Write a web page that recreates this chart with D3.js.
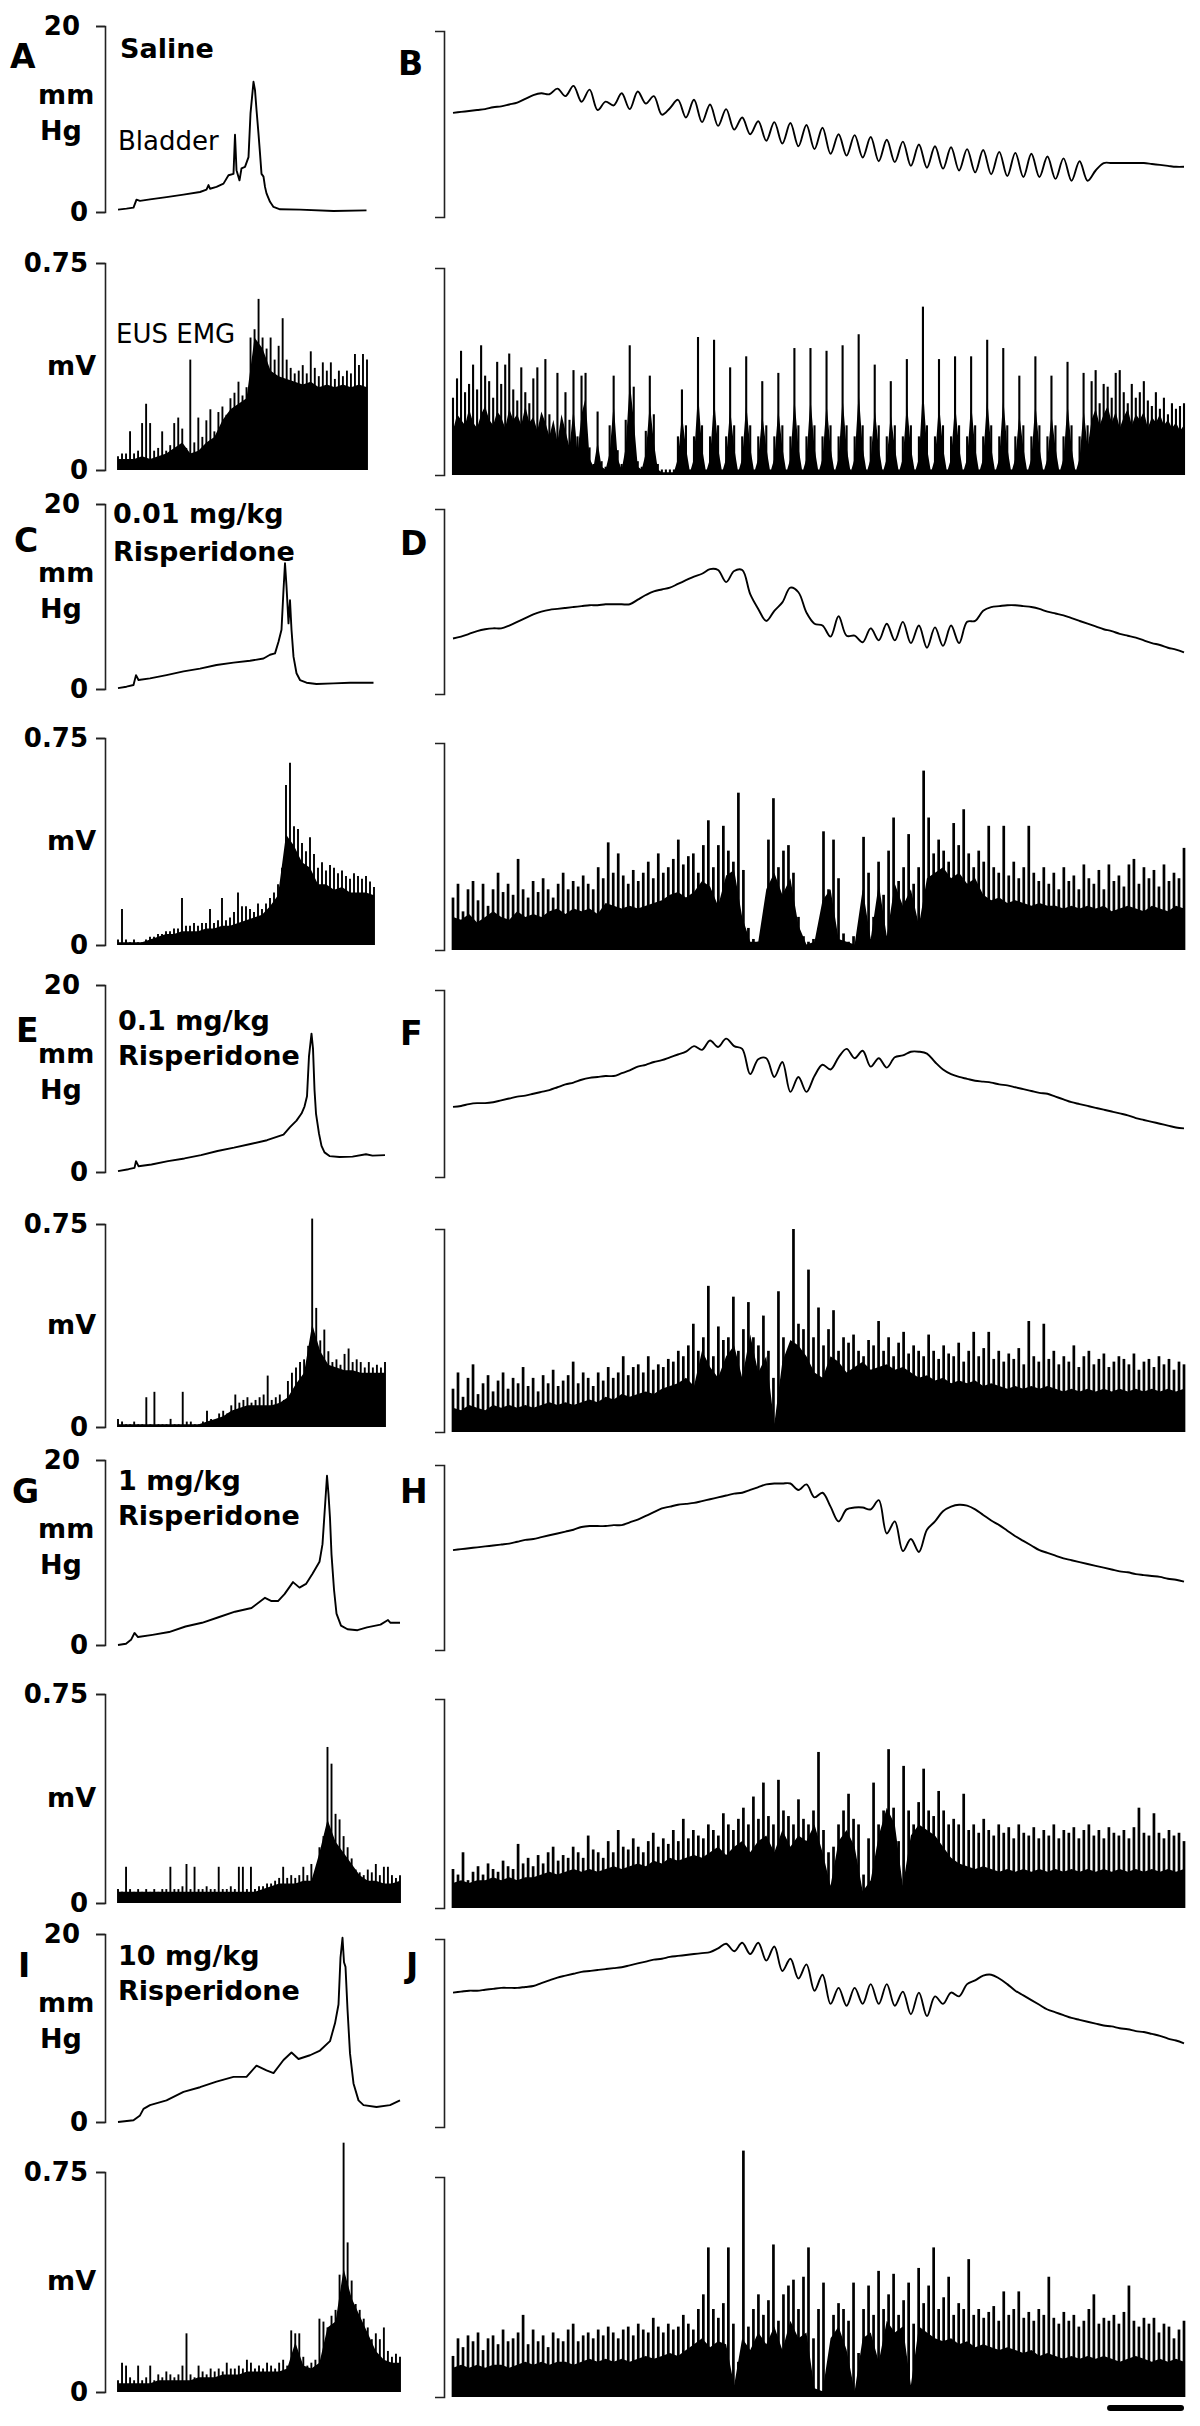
<!DOCTYPE html>
<html lang="en">
<head>
<meta charset="UTF-8">
<title>Bladder pressure and EUS EMG after risperidone</title>
<script src="https://d3js.org/d3.v7.min.js"></script>
<style>
  body { margin: 0; background: #fff; }
  svg text { font-family: "DejaVu Sans", Verdana, sans-serif; }
</style>
</head>
<body>
<script>
// ---- data ----
// bladder pressure in mmHg, EMG amplitude in units of 0.01 mV
// left panels: bladder as [time s, mmHg]; EMG arrays evenly spaced over the trace
const doseLabels = [["Saline"], ["0.01 mg/kg", "Risperidone"], ["0.1 mg/kg", "Risperidone"],
  ["1 mg/kg", "Risperidone"], ["10 mg/kg", "Risperidone"]];
const leftDur = [498, 512, 534, 564, 564];   // seconds per left trace
const rightDur = 95;                          // seconds per right trace
const scaleBarSec = 10;

const bladderA = [[0,0.25],[17,0.36],[31,0.47],[34,0.9],[37,1.33],[44,1.2],[64,1.36],[97,1.6],[131,1.87],[164,2.15],[177,2.4],[181,2.9],[184,2.5],[197,2.7],[211,3.05],[221,3.95],[231,4.1],[234,8.3],[237,4.5],[243,3.4],[247,4.7],[254,4.85],[261,5.9],[265,10.6],[271,14.0],[274,13.1],[277,11.0],[281,8.4],[284,6.3],[287,4.1],[291,3.8],[294,2.7],[297,2.0],[304,1.1],[311,0.54],[324,0.29],[364,0.25],[431,0.1],[497,0.18]];
const bladderC = [[0,0.1],[17,0.25],[31,0.43],[36,1.5],[41,0.97],[64,1.15],[97,1.5],[131,1.9],[164,2.2],[197,2.6],[231,2.85],[264,3.05],[291,3.3],[304,3.7],[314,3.85],[321,5.1],[327,6.4],[331,10.7],[334,13.6],[337,11.1],[341,7.1],[344,9.6],[347,6.4],[351,3.5],[357,1.7],[364,0.97],[377,0.68],[397,0.54],[431,0.61],[464,0.68],[511,0.68]];
const bladderE = [[0,0.1],[21,0.3],[33,0.44],[36,1.16],[41,0.62],[67,0.8],[100,1.16],[133,1.45],[166,1.8],[199,2.25],[232,2.6],[265,3.0],[298,3.4],[331,4.0],[344,4.8],[357,5.5],[367,6.25],[373,7.0],[378,8.1],[382,12.4],[387,14.8],[390,13.2],[393,8.8],[396,6.25],[402,4.1],[407,2.8],[413,2.1],[423,1.7],[443,1.6],[469,1.64],[496,1.9],[509,1.75],[534,1.8]];
const bladderG = [[0,0],[16,0.13],[26,0.56],[33,1.3],[40,0.86],[69,1.1],[102,1.4],[135,2.0],[168,2.4],[201,3.0],[234,3.6],[267,4.0],[294,5.1],[307,4.75],[320,4.75],[333,5.5],[350,6.8],[363,6.2],[376,6.6],[389,7.7],[403,9.0],[409,10.9],[414,15.0],[418,18.3],[421,16.3],[424,13.7],[427,9.8],[432,6.0],[437,3.4],[446,2.1],[459,1.7],[479,1.6],[498,1.9],[525,2.2],[540,2.7],[545,2.4],[564,2.4]];
const bladderI = [[0,0],[31,0.18],[44,0.7],[51,1.4],[64,1.8],[97,2.3],[131,3.2],[164,3.7],[197,4.3],[231,4.8],[257,4.8],[277,6.0],[297,5.5],[311,5.2],[331,6.6],[347,7.4],[361,6.7],[384,7.1],[404,7.6],[424,8.6],[434,10.5],[441,12.5],[445,17.5],[449,19.6],[452,17.0],[455,16.5],[459,12.0],[464,7.3],[471,4.1],[481,2.3],[491,1.8],[517,1.6],[544,1.8],[564,2.3]];

const bodyA = [4,4,4,5,4,5,6,8,10,6,7,10,12,18,22,24,26,48,44,36,34,33,32,31,32,30,31,30,31,30,31,30];
const spikesA = [5,6,6,14,6,7,17,24,17,7,8,14,7,9,17,19,15,8,40,10,19,12,18,22,14,21,23,20,26,28,32,27,30,48,51,62,48,44,48,40,45,55,40,37,35,36,38,35,43,37,34,39,36,39,33,36,34,36,35,42,38,42,40];
const bodyC = [1,1,1,1,2,3,4,4,5,5,5,6,6,7,7,8,9,10,11,14,18,40,36,30,28,22,22,20,21,19,19,19,18];
const spikesC = [2,13,2,1,2,1,1,2,3,3,4,4,5,5,6,6,17,7,7,8,7,8,8,13,8,9,17,9,10,12,19,14,14,13,12,15,13,15,17,19,22,28,58,66,43,42,37,34,39,33,28,30,27,29,28,26,27,25,24,26,25,24,25,23,21];
const bodyE = [1,1,1,1,1,1,1,1,1,1,1,2,3,4,6,7,8,8,8,8,9,11,16,20,38,28,23,22,21,21,20,20,20,20];
const spikesE = [3,2,1,1,2,1,1,11,1,13,1,1,1,3,1,1,13,2,2,1,1,2,6,3,2,5,6,5,8,12,9,10,11,9,10,11,12,19,10,11,12,10,17,20,22,24,25,30,77,44,32,36,28,24,25,23,27,29,24,25,24,22,24,22,23,22,24];
const bodyG = [4,4,4,4,4,4,4,4,4,4,4,4,4,4,4,4,4,4,5,6,7,7,7,8,8,18,30,22,18,14,10,8,8,7,7,8];
const spikesG = [5,4,13,5,4,5,4,5,4,5,4,5,5,13,5,5,6,14,5,13,5,5,6,5,5,13,5,5,6,5,13,13,5,13,5,6,6,7,7,8,9,13,9,10,9,10,13,10,14,10,20,24,56,50,32,30,24,20,16,12,11,10,12,11,14,10,13,13,10,9,10];
const bodyI = [3,3,3,3,3,4,4,4,4,4,5,5,5,6,6,6,7,7,7,7,7,8,17,9,8,10,22,24,42,32,26,20,14,11,10,10];
const spikesI = [4,10,9,5,4,9,4,5,9,4,6,5,7,6,5,6,9,20,6,5,9,7,6,8,7,8,7,10,8,8,9,8,11,10,8,9,8,10,9,8,10,11,9,21,20,20,12,9,10,11,25,24,22,26,28,40,85,51,38,30,28,25,22,18,20,18,22,14,12,13,12];

// right panels: evenly spaced samples over rightDur
const bladderB = [11.2,11.3,11.4,11.5,11.6,11.8,11.9,12.1,12.3,12.7,
  13.1,13.3,13.2,13.8,13.0,14.1,12.4,13.7,11.5,12.4,
  12.0,13.3,11.6,13.5,12.2,13.0,11.0,11.7,12.6,10.7,
  12.6,10.2,12.1,9.8,11.6,9.4,10.7,8.9,10.3,8.2,
  10.2,7.9,10.1,7.6,9.9,7.3,9.6,6.8,8.9,6.6,
  8.8,6.4,8.6,6.0,8.3,5.9,8.1,5.5,7.8,5.3,
  7.6,5.2,7.5,5.0,7.3,4.8,7.2,4.6,7.0,4.4,
  6.9,4.3,6.8,4.3,6.5,4.1,6.3,3.9,6.0,3.9,
  5.0,5.8,5.8,5.8,5.8,5.8,5.8,5.7,5.6,5.5,5.4,5.4];
const bodyB = [16,22,20,18,24,19,17,22,25,20,18,23,21,17,24,20,22,18,25,19,21,16,23,19,14,20,12,22,16,10,24,8,22,
  28,6,3,12,3,2,8,26,6,2,10,34,20,3,2,8,26,12,2,1,1,1,
  1,6,22,10, 1,6,30,10, 1,6,28,10, 1,6,24,10, 1,6,26,10, 1,6,22,10, 1,6,24,10, 1,6,28,10,
  1,6,28,10, 1,6,26,10, 1,6,28,10, 1,6,30,10, 1,6,24,10, 1,6,22,10, 1,6,26,10, 1,6,32,10,
  1,6,26,10, 1,6,26,10, 1,6,26,10, 1,6,28,10, 1,6,28,10, 1,6,22,10, 1,6,26,10, 1,6,22,10,
  1,6,26,10, 1,6,24,10,
  20,24,18,22,25,19,23,17,21,24,18,22,20,23,17,21,19,22,18,20,17,19,16,18];
const spikesB = [28,35,45,30,33,40,31,47,36,34,28,41,33,40,44,31,27,39,30,26,35,39,20,42,22,17,37,15,30,20,38,14,36,
  37,10,4,23,5,3,18,36,9,4,20,47,32,5,3,16,36,22,4,2,2,2,
  2,14,31,18, 2,14,50,18, 2,14,49,18, 2,14,39,18, 2,14,43,18, 2,14,34,18, 2,14,37,18, 2,14,46,18,
  2,14,46,18, 2,14,45,18, 2,14,47,18, 2,14,51,18, 2,14,40,18, 2,14,34,18, 2,14,42,18, 2,14,61,18,
  2,14,42,18, 2,14,43,18, 2,14,43,18, 2,14,49,18, 2,14,46,18, 2,14,36,18, 2,14,43,18, 2,14,36,18,
  2,14,41,18, 2,14,37,18,
  34,38,26,33,32,28,37,38,30,26,33,28,30,34,27,25,30,24,28,22,26,24,25,26];

const bladderD = [6.0,6.2,6.5,6.8,7.0,7.1,7.1,7.4,7.8,8.2,8.6,8.9,9.1,9.2,9.3,9.4,9.5,9.6,9.6,9.7,
  9.7,9.7,9.7,10.2,10.7,11.1,11.3,11.5,11.9,12.3,12.7,13.0,13.5,13.4,12.1,13.3,13.4,10.8,9.2,7.9,
  9.0,9.9,11.5,11.0,8.8,7.6,7.4,6.2,8.4,6.3,6.3,5.6,7.1,5.8,7.6,5.8,7.8,5.5,7.4,5.0,
  7.2,5.2,7.4,5.5,7.8,7.9,9.0,9.4,9.5,9.6,9.6,9.5,9.4,9.2,8.9,8.7,8.5,8.2,7.9,7.6,
  7.3,7.0,6.8,6.5,6.3,6.1,5.8,5.5,5.3,5.0,4.8,4.5];
const bodyD = [12,11,13,10,12,14,12,11,14,12,13,12,14,15,13,15,14,15,13,17,
  16,15,16,15,16,17,18,20,21,19,21,25,23,16,27,29,12,3,3,22,
  28,20,26,9,2,3,18,22,4,3,2,22,4,24,5,24,16,22,9,26,
  28,30,26,28,24,26,20,18,19,17,18,17,16,17,16,16,15,16,15,16,
  15,16,14,15,16,15,14,16,15,14,16,15];
const spikesD = [19,24,14,22,25,18,24,16,22,28,21,24,20,33,22,19,25,21,26,22,
  19,24,28,22,25,23,27,24,22,30,26,39,28,35,27,24,29,25,28,32,
  26,35,28,30,33,40,31,34,35,28,38,47,30,38,45,36,32,57,29,8,
  4,3,6,40,55,30,36,38,28,12,5,3,4,8,43,22,40,26,6,3,
  5,8,41,28,12,32,20,36,48,25,30,42,24,30,65,48,35,40,36,32,
  46,38,51,35,30,36,32,45,30,28,45,27,32,26,30,45,28,25,30,24,
  28,22,30,25,27,22,31,26,24,29,22,31,25,27,23,31,33,24,30,26,
  29,23,31,25,28,26,37];

const bladderF = [7.5,7.6,7.8,7.9,7.9,8.0,8.2,8.4,8.6,8.7,8.9,9.1,9.3,9.6,9.9,10.1,10.4,10.6,10.7,10.8,
  10.8,11.1,11.4,11.8,12.0,12.3,12.5,12.8,13.1,13.4,14.0,13.6,14.6,13.9,14.8,14.0,13.7,11.0,12.6,12.7,
  10.7,12.3,9.1,10.7,9.1,10.8,12.0,11.5,12.8,13.7,12.7,13.5,11.8,12.7,11.7,12.8,13.0,13.4,13.4,13.2,
  12.3,11.5,11.0,10.7,10.5,10.3,10.2,10.1,9.9,9.8,9.6,9.4,9.2,9.0,8.9,8.6,8.3,8.0,7.8,7.6,
  7.4,7.2,7.0,6.8,6.6,6.3,6.1,5.9,5.7,5.5,5.3,5.2];
const bodyF = [9,8,10,9,8,10,9,10,9,10,9,10,11,10,11,10,11,12,11,13,
  12,14,13,14,15,14,16,17,18,20,17,30,24,20,28,32,20,36,22,28,
  3,26,34,32,28,22,20,28,26,22,24,26,23,24,25,23,24,22,20,21,
  19,20,18,19,18,19,17,18,17,16,17,16,17,16,17,16,15,16,15,16,
  15,16,15,16,15,16,15,16,15,16,15,16];
const spikesF = [16,22,13,20,25,14,18,21,15,19,22,16,20,18,24,17,20,15,21,18,
  23,17,19,21,26,18,22,20,17,22,19,24,20,22,28,21,24,25,22,28,
  23,25,24,27,26,30,28,32,40,30,35,54,28,39,34,35,50,30,38,48,
  35,32,43,30,20,52,35,28,75,40,38,60,35,46,32,38,45,30,35,33,
  36,30,28,34,32,41,30,35,28,33,37,29,32,30,28,36,30,27,32,29,
  28,33,26,30,37,28,31,37,27,30,26,29,27,31,25,41,28,26,40,27,
  30,25,28,26,32,24,28,30,25,27,29,24,26,28,27,25,29,23,26,27,
  24,28,25,27,23,26,25];

const bladderH = [10.8,10.9,11.0,11.1,11.2,11.3,11.4,11.5,11.7,11.9,12.0,12.2,12.4,12.6,12.8,13.0,13.3,13.4,13.4,13.4,
  13.5,13.5,13.8,14.1,14.5,14.9,15.3,15.5,15.7,15.8,15.9,16.1,16.3,16.5,16.7,16.9,17.0,17.3,17.6,17.9,
  18.0,18.0,18.0,17.3,17.9,16.5,17.0,15.5,13.9,15.2,15.4,15.4,15.2,16.2,12.6,13.9,10.7,12.0,10.6,13.0,
  13.9,15.0,15.5,15.7,15.6,15.2,14.6,14.0,13.5,12.9,12.3,11.8,11.3,10.8,10.5,10.2,9.9,9.7,9.5,9.3,
  9.1,8.9,8.7,8.5,8.4,8.2,8.1,8.0,7.9,7.7,7.6,7.4];
const bodyH = [9,10,9,10,10,11,10,11,10,11,11,12,13,12,13,14,13,14,13,14,
  15,14,15,16,15,17,16,18,17,18,19,18,20,22,19,22,24,20,24,26,
  20,28,22,26,24,30,20,8,24,28,22,6,10,26,36,30,8,26,30,28,
  26,22,18,16,15,14,15,14,13,14,13,14,13,14,13,14,13,14,13,14,
  13,14,13,14,13,14,13,14,13,14,13,14];
const spikesH = [14,12,20,10,13,15,12,16,14,13,17,15,14,23,16,18,15,19,16,20,
  22,17,19,18,22,20,18,26,21,20,18,24,20,28,22,21,25,22,20,24,
  27,22,25,23,28,24,32,25,28,26,25,30,28,26,34,30,28,32,36,30,
  40,32,45,33,30,46,35,33,30,39,32,30,35,56,28,20,22,30,35,41,
  32,30,12,25,45,30,35,57,36,24,51,35,30,38,50,35,33,42,35,30,
  32,30,41,28,30,27,32,28,26,30,27,29,25,30,27,26,29,25,28,26,
  30,25,28,27,29,25,28,30,26,28,25,29,27,26,28,25,29,36,27,26,
  34,27,25,28,26,27,24];

const bladderJ = [14.3,14.4,14.5,14.5,14.6,14.7,14.8,14.8,14.8,14.9,15.0,15.3,15.6,15.9,16.1,16.3,16.5,16.6,16.7,16.8,
  16.9,17.0,17.2,17.4,17.6,17.8,17.9,18.1,18.2,18.3,18.4,18.5,18.6,19.0,19.5,18.7,19.6,18.4,19.6,17.7,
  19.2,16.6,17.9,15.8,17.3,14.5,16.2,13.1,14.8,12.9,14.8,13.1,15.2,13.1,15.2,12.9,14.4,12.0,14.3,11.8,
  13.9,13.1,14.3,13.9,15.2,15.6,16.1,16.2,15.8,15.2,14.5,14.0,13.5,13.0,12.5,12.2,11.9,11.6,11.4,11.2,
  11.0,10.8,10.7,10.5,10.4,10.2,10.1,9.9,9.7,9.4,9.2,8.9];
const bodyJ = [10,11,10,11,10,11,11,10,11,12,11,12,11,12,12,11,12,13,12,13,
  12,13,12,13,14,13,14,15,14,16,18,20,17,19,18,4,20,16,22,18,
  24,16,26,20,22,3,2,20,24,16,2,20,22,12,26,22,24,4,24,22,
  20,19,20,18,19,17,18,17,16,17,16,15,16,14,15,14,13,14,13,14,
  13,14,13,12,13,14,13,12,13,12,13,12];
const spikesJ = [14,20,17,21,19,22,16,20,21,18,23,19,20,22,28,18,23,19,21,17,
  22,20,19,23,25,19,21,22,20,23,21,24,22,20,23,24,21,25,23,22,
  27,24,22,25,23,24,28,25,23,30,35,51,30,27,32,51,25,12,84,24,
  30,35,28,33,52,26,35,38,40,30,41,51,20,30,39,10,28,32,30,26,
  39,15,30,38,28,43,30,35,42,28,33,39,25,44,32,38,51,30,34,41,
  28,32,30,47,28,30,27,29,31,26,36,28,30,36,27,29,26,30,28,41,
  27,25,29,26,28,24,26,30,35,25,27,26,28,25,29,38,26,24,27,25,
  27,22,25,24,20,23,26];

// ---- layout ----
const W = 1200, H = 2426;
const rows = [
  { L: "A", R: "B", bTop: 26,   bBot: 212,  eTop: 263,  eBot: 470,  lL: [10, 68],   lR: [398, 75],   doseX: 120, doseY: [58] },
  { L: "C", R: "D", bTop: 504,  bBot: 689,  eTop: 738,  eBot: 945,  lL: [14, 552],  lR: [400, 555],  doseX: 113, doseY: [523, 561] },
  { L: "E", R: "F", bTop: 985,  bBot: 1172, eTop: 1224, eBot: 1427, lL: [16, 1042], lR: [400, 1045], doseX: 118, doseY: [1030, 1065] },
  { L: "G", R: "H", bTop: 1460, bBot: 1645, eTop: 1694, eBot: 1903, lL: [12, 1503], lR: [400, 1503], doseX: 118, doseY: [1490, 1525] },
  { L: "I", R: "J", bTop: 1934, bBot: 2122, eTop: 2172, eBot: 2392, lL: [18, 1977], lR: [406, 1977], doseX: 118, doseY: [1965, 2000] }
];
const leftSeries = [
  [bladderA, bodyA, spikesA], [bladderC, bodyC, spikesC], [bladderE, bodyE, spikesE],
  [bladderG, bodyG, spikesG], [bladderI, bodyI, spikesI]
];
const rightSeries = [
  [bladderB, bodyB, spikesB], [bladderD, bodyD, spikesD], [bladderF, bodyF, spikesF],
  [bladderH, bodyH, spikesH], [bladderJ, bodyJ, spikesJ]
];

const leftAxisX = 105, rightAxisX = 444, rightShift = 5;
const xLeft = d3.scaleLinear().domain([0, 564]).range([118, 400]);
const xRight = d3.scaleLinear().domain([0, rightDur]).range([453, 1184]);

const svg = d3.select("body").append("svg")
  .attr("width", W).attr("height", H)
  .style("background", "#fff");

const spread = (arr, dur) => arr.map((v, i) => [i * dur / (arr.length - 1), v]);

function bracket(g, y, x, ticks, fmt) {
  const ax = g.append("g")
    .attr("transform", `translate(${x},0)`)
    .call(d3.axisLeft(y).tickValues(ticks).tickFormat(fmt)
      .tickSizeInner(9).tickSizeOuter(9).tickPadding(8));
  ax.select(".domain").attr("stroke", "#222").attr("stroke-width", 1.6);
  ax.selectAll(".tick line").attr("stroke", "#222").attr("stroke-width", 1.6);
  ax.selectAll(".tick text")
    .attr("fill", "#000")
    .style("font-family", "'DejaVu Sans', Verdana, sans-serif")
    .style("font-size", "26px").style("font-weight", "bold");
  ax.selectAll(".tick text").filter(d => d === 20).attr("x", -25);
  return ax;
}

function drawBladder(g, pts, x, y, curve) {
  g.append("path")
    .datum(pts)
    .attr("fill", "none")
    .attr("stroke", "#000")
    .attr("stroke-width", 1.9)
    .attr("stroke-linejoin", "round")
    .attr("d", d3.line().curve(curve).x(d => x(d[0])).y(d => y(d[1])));
}

function drawEmg(g, body, spikes, dur, x, y, sw) {
  g.append("path")
    .datum(spread(body, dur))
    .attr("fill", "#000")
    .attr("d", d3.area().x(d => x(d[0])).y0(y(0)).y1(d => y(d[1] / 100)));
  g.append("g").selectAll("line")
    .data(spread(spikes, dur))
    .join("line")
    .attr("x1", d => x(d[0])).attr("x2", d => x(d[0]))
    .attr("y1", y(0)).attr("y2", d => y(d[1] / 100))
    .attr("stroke", "#000").attr("stroke-width", sw);
}

function label(txt, x, y, size, weight) {
  svg.append("text").attr("x", x).attr("y", y)
    .attr("font-size", size).attr("font-weight", weight).attr("fill", "#000")
    .text(txt);
}

rows.forEach((r, k) => {
  const g = svg.append("g");

  // left column
  const yB = d3.scaleLinear().domain([0, 20]).range([r.bBot, r.bTop]);
  const yE = d3.scaleLinear().domain([0, 0.75]).range([r.eBot, r.eTop]);
  bracket(g, yB, leftAxisX, [0, 20], d3.format("d"));
  bracket(g, yE, leftAxisX, [0, 0.75], d => d === 0 ? "0" : d3.format(".2f")(d));
  const [lb, lbody, lsp] = leftSeries[k];
  drawBladder(g, lb, xLeft, yB, d3.curveLinear);
  drawEmg(g, lbody, lsp, leftDur[k], xLeft, yE, 1.9);

  // right column
  const yBR = d3.scaleLinear().domain([0, 20]).range([r.bBot + rightShift, r.bTop + rightShift]);
  const yER = d3.scaleLinear().domain([0, 0.75]).range([r.eBot + rightShift, r.eTop + rightShift]);
  bracket(g, yBR, rightAxisX, [], "");
  bracket(g, yER, rightAxisX, [], "");
  const [rb, rbody, rsp] = rightSeries[k];
  drawBladder(g, spread(rb, rightDur), xRight, yBR, d3.curveCatmullRom.alpha(0.5));
  drawEmg(g, rbody, rsp, rightDur, xRight, yER, k === 0 ? 2.1 : 2.7);

  // labels
  label(r.L, r.lL[0], r.lL[1], 33, "bold");
  label(r.R, r.lR[0], r.lR[1], 33, "bold");
  label("mm", 38, r.bTop + 78, 27, "bold");
  label("Hg", 40, r.bTop + 114, 27, "bold");
  label("mV", 47, (r.eTop + r.eBot) / 2 + 8, 27, "bold");
  doseLabels[k].forEach((t, j) => label(t, r.doseX, r.doseY[j], 27, "bold"));
});

label("Bladder", 118, 150, 26, "normal");
label("EUS EMG", 116, 343, 26, "normal");

// time scale bar (10 s on the right-hand traces)
svg.append("line")
  .attr("x1", xRight(rightDur - scaleBarSec) + 3).attr("x2", xRight(rightDur) - 3)
  .attr("y1", 2408).attr("y2", 2408)
  .attr("stroke", "#000").attr("stroke-width", 6).attr("stroke-linecap", "round");
</script>
</body>
</html>
